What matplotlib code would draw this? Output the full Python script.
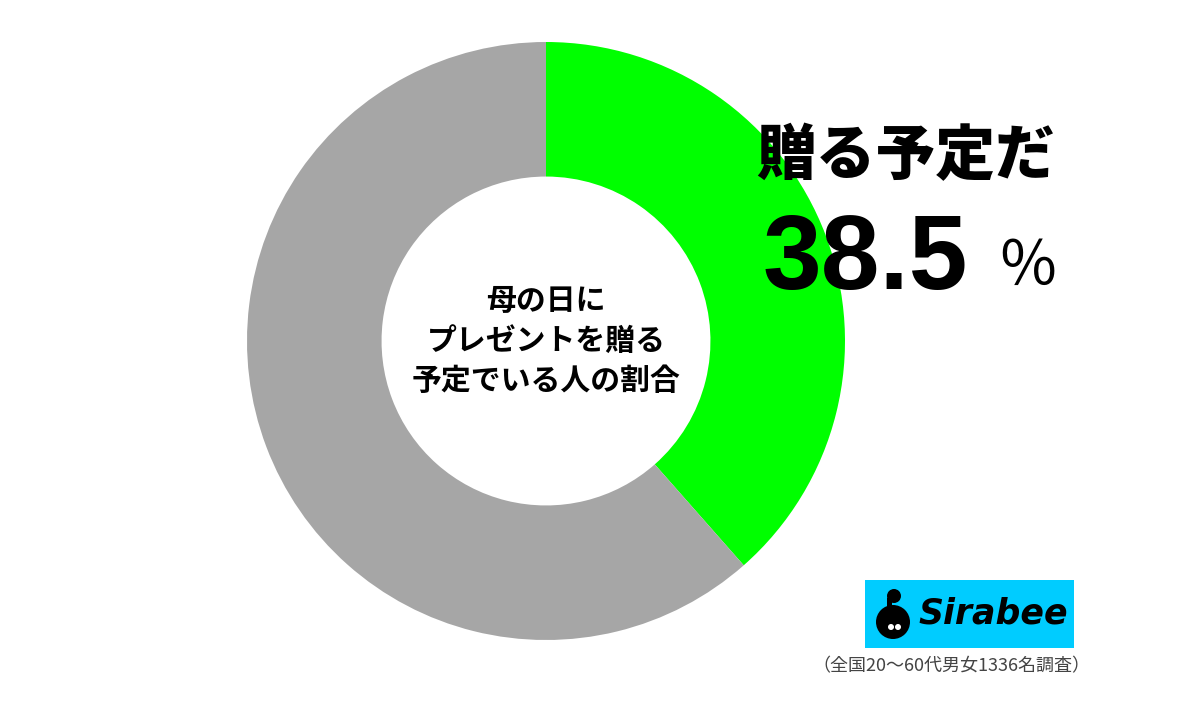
import matplotlib
matplotlib.use("Agg")
import matplotlib.pyplot as plt
from matplotlib.patches import Rectangle, Circle, Ellipse

plt.rcParams['font.family'] = ['Noto Sans CJK JP', 'DejaVu Sans']

# data
labels = ['贈る予定だ', 'その他']
values = [38.5, 61.5]
colors = ['#00FF00', '#A6A6A6']
center_text = '母の日に\nプレゼントを贈る\n予定でいる人の割合'
note = '（全国20～60代男女1336名調査）'

W, H = 1200, 708
fig = plt.figure(figsize=(W / 100, H / 100), dpi=100)

# donut placed by pixel geometry
cx, cy, r = 546, 341, 299
ax = fig.add_axes([(cx - r) / W, (H - cy - r) / H, 2 * r / W, 2 * r / H])
ax.pie(values, colors=colors, startangle=90, counterclock=False,
       radius=1.0, wedgeprops=dict(width=0.45, edgecolor='none'))
ax.set_xlim(-1, 1)
ax.set_ylim(-1, 1)
ax.set_aspect('equal')
ax.axis('off')

ax.text(0, 0, center_text, ha='center', va='center', fontsize=21.5,
        fontweight='bold', linespacing=1.42)

# overlay in pixel coordinates for the texts and the logo
ov = fig.add_axes([0, 0, 1, 1])
ov.set_xlim(0, W)
ov.set_ylim(H, 0)
ov.axis('off')
ov.patch.set_alpha(0)

# big label on the right
ov.text(906, 156, labels[0], ha='center', va='center', fontsize=43,
        fontweight='heavy')
ov.text(865, 262, f'{values[0]}', ha='center', va='center', fontsize=76,
        fontweight='bold', family=['Liberation Sans', 'DejaVu Sans'])
ov.text(1028, 268, '％', ha='center', va='center', fontsize=44,
        fontweight='normal')

# logo box
ov.add_patch(Rectangle((865, 580), 209, 68, facecolor='#00CCFF', edgecolor='none'))
ov.add_patch(Circle((893, 622), 17, facecolor='black', edgecolor='none'))
ov.add_patch(Circle((894, 596), 7, facecolor='black', edgecolor='none'))
ov.add_patch(Rectangle((887, 598), 5, 14, facecolor='black', edgecolor='none'))
ov.add_patch(Circle((891, 627), 3, facecolor='white', edgecolor='none'))
ov.add_patch(Circle((898, 627), 3, facecolor='white', edgecolor='none'))
ov.text(993, 614, 'Sirabee', ha='center', va='center', fontsize=25,
        fontweight='bold', style='italic', family=['DejaVu Sans'])

ov.text(951, 666, note, ha='center', va='center', fontsize=13,
        color='#444444')

fig.savefig('out.png', dpi=100, facecolor='white')
